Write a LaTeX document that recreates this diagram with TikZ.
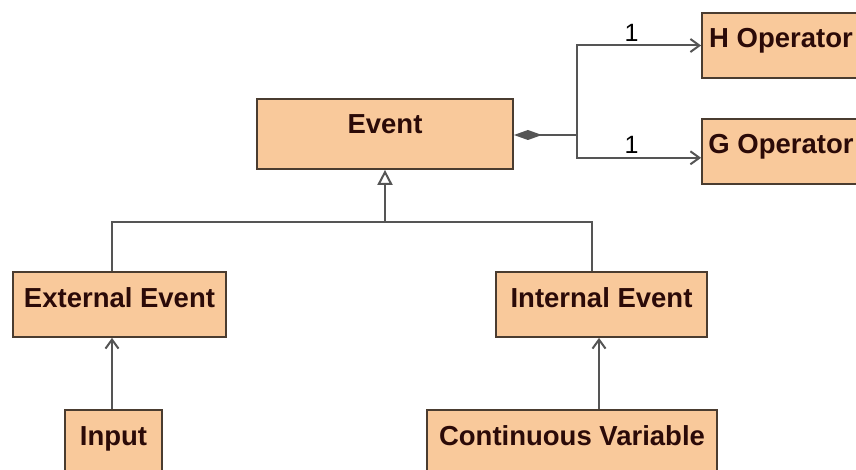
\documentclass[tikz,border=0pt]{standalone}
\usepackage{fontspec}
\setmainfont{Liberation Sans}
\usetikzlibrary{arrows.meta, positioning}
\definecolor{boxfill}{HTML}{F9C99B}
\definecolor{boxline}{HTML}{4A3C30}
\definecolor{linkgray}{HTML}{555555}
\definecolor{labelink}{HTML}{2B0A08}

\begin{document}
\begin{tikzpicture}[
    x=1pt, y=-1pt,
    node distance=39pt and 0pt,
    block/.style={rectangle, draw=boxline, fill=boxfill, line width=1.8pt, inner sep=0pt, text height=35pt, text depth=30pt, font=\fontsize{27.5pt}{33pt}\selectfont\bfseries, text=labelink},
    arrow/.style={-{Straight Barb[length=9pt, width=13pt]}, line width=2pt, draw=linkgray},
    inherit/.style={-{Triangle[open, length=15pt, width=15pt, fill=white]}, line width=2pt, draw=linkgray},
    link/.style={line width=2pt, draw=linkgray},
    mult/.style={font=\fontsize{25pt}{30pt}\selectfont, text=black, inner sep=3pt}
]
\useasboundingbox (0,0) rectangle (856,470);
\fill[white] (0,0) rectangle (856,470);
\clip (0,0) rectangle (856,470);

% Nodes
\node[block, minimum width=256pt, text depth=35pt] (event) at (385,134) {Event};
\node[block, minimum width=158pt] (hop) at (781,45.5) {H Operator};
\node[block, minimum width=158pt, below=of hop] (gop) {G Operator};
\node[block, minimum width=213pt] (ext) at (119.5,304.5) {External Event};
\node[block, minimum width=211pt] (int) at (601.5,304.5) {Internal Event};
\node[block, minimum width=97pt] (input) at (113.5,442.5) {Input};
\node[block, minimum width=290pt] (contvar) at (572,442.5) {Continuous Variable};

% Bends
\coordinate (junction) at (577,135);
\coordinate (split) at (385,222);
\coordinate (extcol) at (112,0);
\coordinate (intcol) at (592,0);
\coordinate (cvcol) at (599,0);

% Composition
\draw[link, {Diamond[length=28pt, width=10pt]}-] (event.east |- junction) -- (junction);
\draw[arrow] (junction) |- node[mult, above, pos=0.72] {1} (hop.west);
\draw[arrow] (junction) |- node[mult, above, pos=0.72] {1} ([yshift=-6.5pt]gop.west);

% Generalization
\draw[inherit] (split) -- (event.south);
\draw[link] (extcol |- ext.north) |- (split) -| (intcol |- int.north);

% Dependencies
\draw[arrow] (input.north -| extcol) -- (extcol |- ext.south);
\draw[arrow] (cvcol |- contvar.north) -- (cvcol |- int.south);

\end{tikzpicture}
\end{document}
